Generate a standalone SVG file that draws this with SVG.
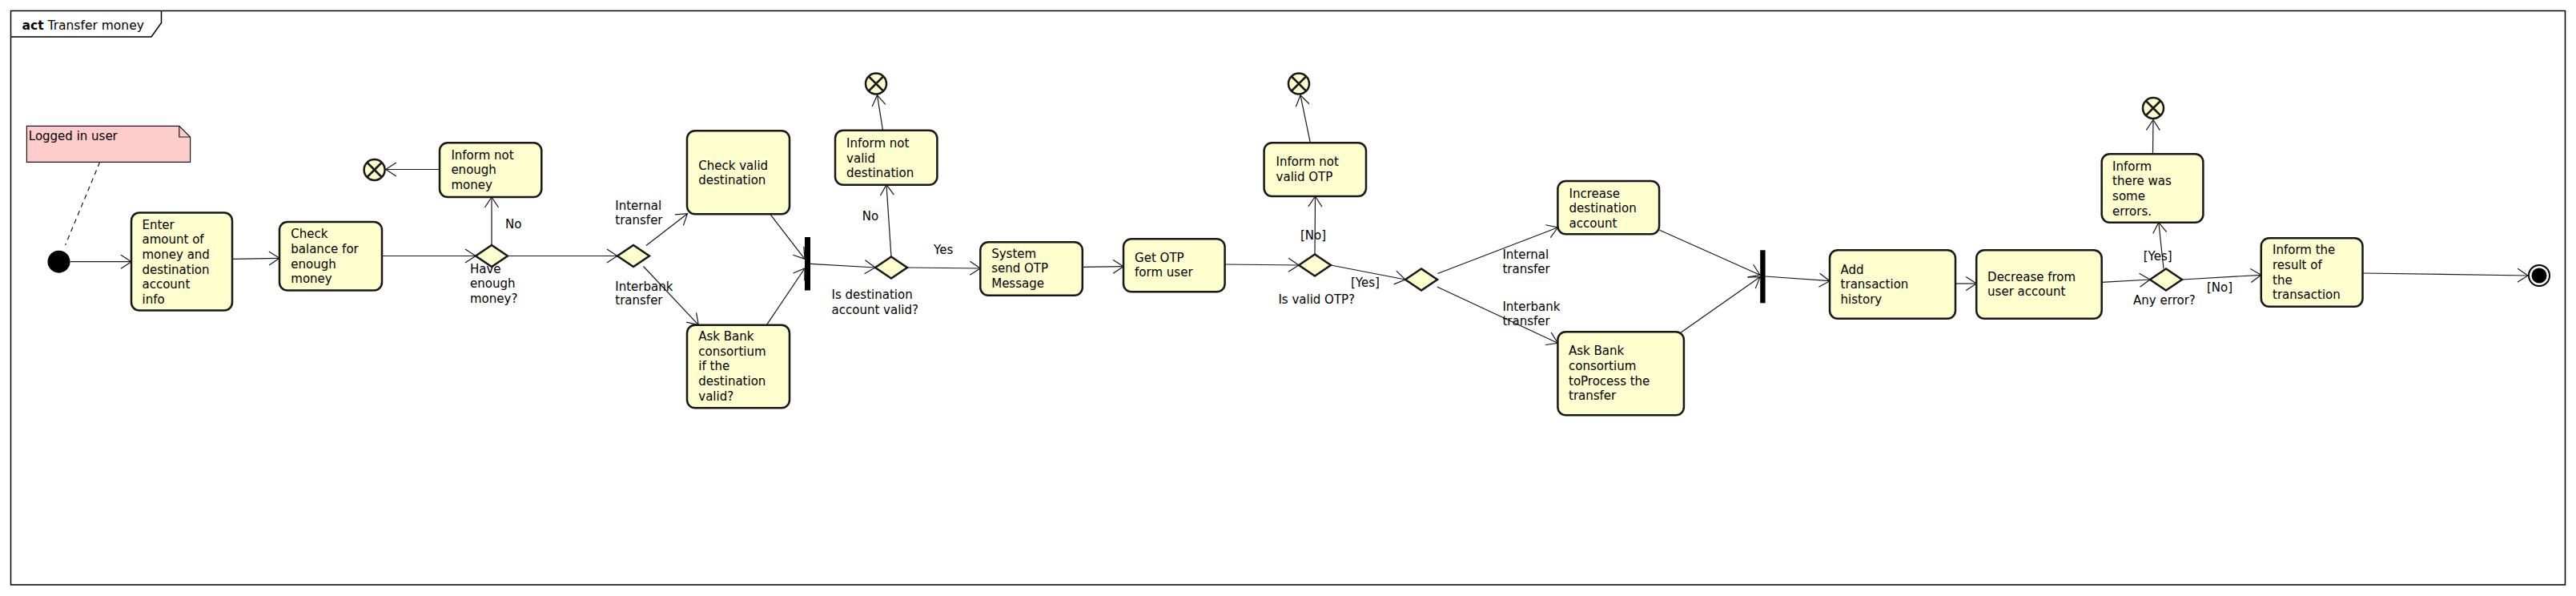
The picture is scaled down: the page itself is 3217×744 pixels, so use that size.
<svg xmlns="http://www.w3.org/2000/svg" width="3217" height="744" viewBox="0 0 3217 744">
<defs>
<style>
.n{fill:#FEFECE;stroke:#181818;stroke-width:2.5}
.t{font-family:"DejaVu Sans",sans-serif;font-size:15px;fill:#000}
.c{fill:none;stroke:#181818;stroke-width:1.2;marker-end:url(#arr)}
.bar{fill:#000}
.x{stroke:#181818;stroke-width:2.5}
</style>
<marker id="arr" markerUnits="userSpaceOnUse" markerWidth="16" markerHeight="20" refX="14" refY="10" orient="auto" viewBox="0 0 16 20"><path d="M1,1.5 L14,10 L1,18.5" fill="none" stroke="#181818" stroke-width="1.2"/></marker>
<g id="ff"><circle r="13" class="n"/><line x1="-9" y1="-9" x2="9" y2="9" class="x"/><line x1="9" y1="-9" x2="-9" y2="9" class="x"/></g>
</defs>
<rect width="3217" height="744" fill="#fff"/>
<g id="frame">
<rect x="13.5" y="13.5" width="3190" height="716.5" fill="none" stroke="#000" stroke-width="1.5"/>
<path d="M13.5,46 L189,46 L201.5,28.5 L201.5,13.5" fill="none" stroke="#000" stroke-width="1.5"/>
<text class="t" x="27.5" y="37" style="font-size:15.5px"><tspan font-weight="bold">act</tspan> Transfer money</text>
</g>
<g id="note">
<path d="M33.4,157.3 L223.8,157.3 L237.6,171 L237.6,202.3 L33.4,202.3 Z" fill="#FFCCCC" stroke="#181818" stroke-width="1.2"/>
<path d="M223.8,157.3 L223.8,171 L237.6,171" fill="none" stroke="#181818" stroke-width="1.2"/>
<text class="t" x="35.8" y="175">Logged in user</text>
</g>
<g id="start"><circle cx="73.5" cy="326.7" r="14" fill="#000"/></g>
<g id="enter"><rect class="n" x="164" y="265.5" width="126" height="122" rx="10"/>
<text class="t" x="177.5" y="285.5"><tspan x="177.5">Enter</tspan><tspan x="177.5" dy="18.7">amount of</tspan><tspan x="177.5" dy="18.7">money and</tspan><tspan x="177.5" dy="18.7">destination</tspan><tspan x="177.5" dy="18.7">account</tspan><tspan x="177.5" dy="18.7">info</tspan></text></g>
<g id="checkBalance"><rect class="n" x="349" y="277" width="128" height="85.5" rx="10"/>
<text class="t" x="363.3" y="297.3"><tspan x="363.3">Check</tspan><tspan x="363.3" dy="18.7">balance for</tspan><tspan x="363.3" dy="18.7">enough</tspan><tspan x="363.3" dy="18.7">money</tspan></text></g>
<g id="informMoney"><rect class="n" x="549" y="178.3" width="127.3" height="67.7" rx="10"/>
<text class="t" x="563.4" y="198.5"><tspan x="563.4">Inform not</tspan><tspan x="563.4" dy="18.7">enough</tspan><tspan x="563.4" dy="18.7">money</tspan></text></g>
<g id="end1"><use href="#ff" x="467.6" y="212"/></g>
<g id="d1"><path class="n" d="M594,319.5 L614,306 L634,319.5 L614,333 Z"/></g>
<g id="d2"><path class="n" d="M771,319.5 L791,306 L811,319.5 L791,333 Z"/></g>
<g id="checkValid"><rect class="n" x="858" y="163.3" width="128" height="104" rx="10"/>
<text class="t" x="872.3" y="211.7"><tspan x="872.3">Check valid</tspan><tspan x="872.3" dy="18.7">destination</tspan></text></g>
<g id="askBank1"><rect class="n" x="858" y="405.7" width="128" height="103.6" rx="10"/>
<text class="t" x="872.3" y="425"><tspan x="872.3">Ask Bank</tspan><tspan x="872.3" dy="18.7">consortium</tspan><tspan x="872.3" dy="18.7">if the</tspan><tspan x="872.3" dy="18.7">destination</tspan><tspan x="872.3" dy="18.7">valid?</tspan></text></g>
<g id="join1"><rect class="bar" x="1005" y="296" width="7" height="66.5"/></g>
<g id="d3"><path class="n" d="M1093,334 L1113,320.5 L1133,334 L1113,347.5 Z"/></g>
<g id="informDest"><rect class="n" x="1043" y="162.7" width="127.4" height="68" rx="10"/>
<text class="t" x="1057.1" y="184"><tspan x="1057.1">Inform not</tspan><tspan x="1057.1" dy="18.7">valid</tspan><tspan x="1057.1" dy="18.7">destination</tspan></text></g>
<g id="end2"><use href="#ff" x="1094" y="104.5"/></g>
<g id="sendOtp"><rect class="n" x="1224.3" y="302.3" width="127.5" height="66.4" rx="10"/>
<text class="t" x="1238.2" y="321.7"><tspan x="1238.2">System</tspan><tspan x="1238.2" dy="18.7">send OTP</tspan><tspan x="1238.2" dy="18.7">Message</tspan></text></g>
<g id="getOtp"><rect class="n" x="1403" y="298.3" width="126.6" height="66" rx="10"/>
<text class="t" x="1417.1" y="326.7"><tspan x="1417.1">Get OTP</tspan><tspan x="1417.1" dy="18.7">form user</tspan></text></g>
<g id="d4"><path class="n" d="M1622,331 L1642,317.5 L1662,331 L1642,344.5 Z"/></g>
<g id="informOtp"><rect class="n" x="1578.6" y="178.3" width="127.4" height="66.7" rx="10"/>
<text class="t" x="1593.6" y="207.3"><tspan x="1593.6">Inform not</tspan><tspan x="1593.6" dy="18.7">valid OTP</tspan></text></g>
<g id="end3"><use href="#ff" x="1622" y="104.5"/></g>
<g id="d5"><path class="n" d="M1755,349 L1775,335.5 L1795,349 L1775,362.5 Z"/></g>
<g id="increase"><rect class="n" x="1945.4" y="226" width="126.7" height="66.3" rx="10"/>
<text class="t" x="1959.6" y="246.7"><tspan x="1959.6">Increase</tspan><tspan x="1959.6" dy="18.7">destination</tspan><tspan x="1959.6" dy="18.7">account</tspan></text></g>
<g id="askBank2"><rect class="n" x="1945.4" y="414.3" width="157.5" height="104" rx="10"/>
<text class="t" x="1959" y="443.3"><tspan x="1959">Ask Bank</tspan><tspan x="1959" dy="18.7">consortium</tspan><tspan x="1959" dy="18.7">toProcess the</tspan><tspan x="1959" dy="18.7">transfer</tspan></text></g>
<g id="join2"><rect class="bar" x="2198.2" y="312.3" width="6.4" height="66"/></g>
<g id="addHistory"><rect class="n" x="2285" y="312.3" width="157" height="85.4" rx="10"/>
<text class="t" x="2298.6" y="341.7"><tspan x="2298.6">Add</tspan><tspan x="2298.6" dy="18.7">transaction</tspan><tspan x="2298.6" dy="18.7">history</tspan></text></g>
<g id="decrease"><rect class="n" x="2468.2" y="312.3" width="156.5" height="85.4" rx="10"/>
<text class="t" x="2482.1" y="350.7"><tspan x="2482.1">Decrease from</tspan><tspan x="2482.1" dy="18.7">user account</tspan></text></g>
<g id="d6"><path class="n" d="M2685,349 L2705,335.5 L2725,349 L2705,362.5 Z"/></g>
<g id="informErrors"><rect class="n" x="2624.7" y="192.3" width="126.7" height="85.4" rx="10"/>
<text class="t" x="2638.1" y="212.7"><tspan x="2638.1">Inform</tspan><tspan x="2638.1" dy="18.7">there was</tspan><tspan x="2638.1" dy="18.7">some</tspan><tspan x="2638.1" dy="18.7">errors.</tspan></text></g>
<g id="end4"><use href="#ff" x="2689" y="135"/></g>
<g id="informResult"><rect class="n" x="2823.8" y="297.3" width="126.7" height="85.4" rx="10"/>
<text class="t" x="2838" y="317.3"><tspan x="2838">Inform the</tspan><tspan x="2838" dy="18.7">result of</tspan><tspan x="2838" dy="18.7">the</tspan><tspan x="2838" dy="18.7">transaction</tspan></text></g>
<g id="final"><circle cx="3171" cy="344" r="13" fill="#fff" stroke="#000" stroke-width="2"/><circle cx="3171" cy="344" r="9.5" fill="#000"/></g>
<g id="connectors">
<path d="M124.7,202.3 L81.6,306" fill="none" stroke="#181818" stroke-width="1.2" stroke-dasharray="6,5"/>
<path class="c" d="M87.5,326.7 L164,326.7"/>
<path class="c" d="M290,323.3 L349,322.3"/>
<path class="c" d="M477,319.5 L594,319.5"/>
<path class="c" d="M614,306 L614,246"/>
<path class="c" d="M549,211.5 L481.8,211.5"/>
<path class="c" d="M634,319.5 L771,319.5"/>
<path class="c" d="M807,306.5 L858.5,266.7"/>
<path class="c" d="M803.5,332.5 L872.3,405.7"/>
<path class="c" d="M961.8,267.3 L1005,323.3"/>
<path class="c" d="M957.4,405.7 L1005,335"/>
<path class="c" d="M1012,329.3 L1093,334"/>
<path class="c" d="M1113,320.5 L1107,230.7"/>
<path class="c" d="M1102.5,162.7 L1095.5,118.8"/>
<path class="c" d="M1133,334 L1224.3,335"/>
<path class="c" d="M1351.8,333.3 L1403,332.7"/>
<path class="c" d="M1529.6,330 L1622,331"/>
<path class="c" d="M1642,317.5 L1642.5,245"/>
<path class="c" d="M1636.4,178.3 L1624,118.8"/>
<path class="c" d="M1662,331 L1755,349"/>
<path class="c" d="M1795.4,341.5 L1945.4,284"/>
<path class="c" d="M1794.6,358 L1945.4,428.3"/>
<path class="c" d="M2072.5,287.3 L2198,343.3"/>
<path class="c" d="M2099.3,415 L2198,345.7"/>
<path class="c" d="M2204.6,345 L2285,350.7"/>
<path class="c" d="M2442,354 L2468.2,354"/>
<path class="c" d="M2624.7,352.3 L2685,349"/>
<path class="c" d="M2702,335.5 L2695.8,277.7"/>
<path class="c" d="M2688.5,192.3 L2689,149.5"/>
<path class="c" d="M2725,349 L2823.8,343.3"/>
<path class="c" d="M2950.5,341 L3157,344"/>
</g>
<g id="labels">
<text class="t" x="631" y="284.5">No</text>
<text class="t" x="587" y="340.5"><tspan x="587">Have</tspan><tspan x="587" dy="18.7">enough</tspan><tspan x="587" dy="18.7">money?</tspan></text>
<text class="t" x="768.3" y="262"><tspan x="768.3">Internal</tspan><tspan x="768.3" dy="17.5">transfer</tspan></text>
<text class="t" x="768.3" y="362.7"><tspan x="768.3">Interbank</tspan><tspan x="768.3" dy="17.5">transfer</tspan></text>
<text class="t" x="1038.6" y="373.3"><tspan x="1038.6">Is destination</tspan><tspan x="1038.6" dy="18.3">account valid?</tspan></text>
<text class="t" x="1076.8" y="275">No</text>
<text class="t" x="1166" y="317.3">Yes</text>
<text class="t" x="1624" y="299.3">[No]</text>
<text class="t" x="1596.4" y="379.3">Is valid OTP?</text>
<text class="t" x="1687" y="357.7">[Yes]</text>
<text class="t" x="1876.4" y="323.3"><tspan x="1876.4">Internal</tspan><tspan x="1876.4" dy="17.7">transfer</tspan></text>
<text class="t" x="1876.4" y="388.3"><tspan x="1876.4">Interbank</tspan><tspan x="1876.4" dy="17.7">transfer</tspan></text>
<text class="t" x="2676.7" y="325">[Yes]</text>
<text class="t" x="2664.1" y="380">Any error?</text>
<text class="t" x="2755.9" y="364.3">[No]</text>
</g>
</svg>
